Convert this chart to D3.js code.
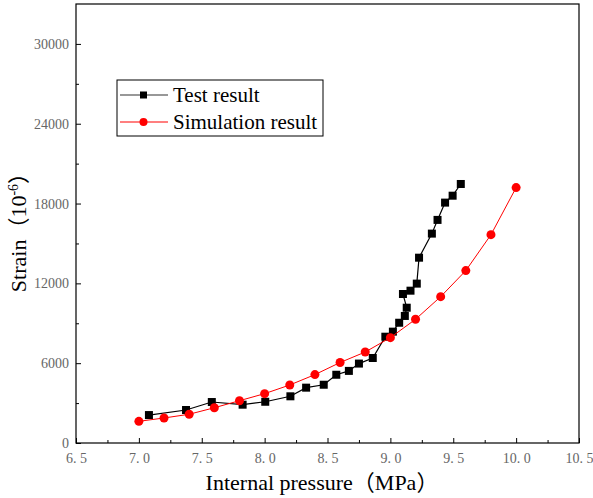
<!DOCTYPE html>
<html>
<head>
<meta charset="utf-8">
<script src="https://cdn.jsdelivr.net/npm/d3@7"></script>
<style>
  body { margin: 0; background: #fff; }
</style>
</head>
<body>
<div id="chart"></div>
<script>
let width = 593
let height = 498
let margin = {top: 4, right: 14, bottom: 55, left: 76}

// values
const testPressure = [7.08, 7.375, 7.58, 7.825, 8.005, 8.205, 8.33, 8.47, 8.57, 8.67, 8.75, 8.86, 8.96, 9.02, 9.07, 9.115, 9.13, 9.10, 9.16, 9.21, 9.228, 9.33, 9.375, 9.435, 9.495, 9.56]
const testStrain = [2100, 2480, 3080, 2880, 3100, 3510, 4160, 4380, 5130, 5420, 5970, 6390, 7990, 8370, 9040, 9550, 10170, 11200, 11450, 11980, 13930, 15740, 16770, 18070, 18590, 19470]

const simPressure = [7.0, 7.2, 7.4, 7.6, 7.8, 8.0, 8.2, 8.4, 8.6, 8.8, 9.0, 9.2, 9.4, 9.6, 9.8, 10.0]
const simStrain = [1630, 1880, 2160, 2650, 3180, 3710, 4360, 5140, 6050, 6840, 7920, 9300, 11000, 12960, 15660, 19200]

const xTicks = [6.5, 7.0, 7.5, 8.0, 8.5, 9.0, 9.5, 10.0, 10.5]
const yTicks = [0, 6000, 12000, 18000, 24000, 30000]
const seriesNames = ['Test result', 'Simulation result']

const testData = testPressure.map((p, i) => [p, testStrain[i]])
const simData = simPressure.map((p, i) => [p, simStrain[i]])

let innerW = width - margin.left - margin.right
let innerH = height - margin.top - margin.bottom

let svg = d3.select('#chart')
            .append('svg')
            .attr('width', width)
            .attr('height', height)

let g = svg.append('g')
            .attr('transform', 'translate(' + margin.left + ',' + margin.top + ')')

let xScale = d3.scaleLinear()
            .domain([6.5, 10.5])
            .range([0, innerW])

let yScale = d3.scaleLinear()
            .domain([0, 33000])
            .range([innerH, 0])

const tickFont = '"Liberation Serif", serif'
const titleFont = '"Liberation Serif", "Noto Sans CJK SC", serif'

// minor ticks
g.append('g')
    .attr('transform', 'translate(0,' + innerH + ')')
    .call(d3.axisBottom(xScale).tickValues(d3.range(6.75, 10.5, 0.5)).tickSize(-3).tickFormat(''))
    .call(a => a.select('.domain').remove())

g.append('g')
    .call(d3.axisLeft(yScale).tickValues(d3.range(3000, 33000, 6000)).tickSize(-3).tickFormat(''))
    .call(a => a.select('.domain').remove())

// major ticks
let xAxis = g.append('g')
    .attr('transform', 'translate(0,' + innerH + ')')
    .call(d3.axisBottom(xScale).tickValues(xTicks).tickSize(-5).tickPadding(10).tickFormat(''))
xAxis.select('.domain').remove()
// labels like "6. 5": integer part, then a gap before the decimal
xAxis.selectAll('.tick text')
    .style('font-family', tickFont)
    .style('font-size', '14px')
    .attr('fill', '#666')
    .each(function(d) {
        let parts = d3.format('.1f')(d).split('.')
        let t = d3.select(this)
        t.append('tspan').text(parts[0] + '.')
        t.append('tspan').attr('dx', 3.5).text(parts[1])
    })

let yAxis = g.append('g')
    .call(d3.axisLeft(yScale).tickValues(yTicks).tickSize(-5).tickPadding(7).tickFormat(d3.format('d')))
yAxis.select('.domain').remove()
yAxis.selectAll('text')
    .style('font-family', tickFont)
    .style('font-size', '14px')
    .attr('fill', '#666')

// frame
g.append('rect')
    .attr('width', innerW)
    .attr('height', innerH)
    .attr('fill', 'none')
    .attr('stroke', '#000')
    .attr('stroke-width', 1.2)

// axis titles
svg.append('text')
    .attr('x', 322)
    .attr('y', 490)
    .attr('text-anchor', 'middle')
    .style('font-family', titleFont)
    .style('font-size', '22px')
    .text('Internal pressure（MPa）')

let yTitle = svg.append('text')
    .attr('transform', 'translate(26,227) rotate(-90)')
    .attr('text-anchor', 'middle')
    .style('font-family', titleFont)
    .style('font-size', '22px')
yTitle.append('tspan').text('Strain（10')
yTitle.append('tspan').attr('dy', -8).style('font-size', '14px').text('-6')
yTitle.append('tspan').attr('dy', 8).text('）')

let line = d3.line()
            .x(d => xScale(d[0]))
            .y(d => yScale(d[1]))

// test series
g.append('path')
    .datum(testData)
    .attr('d', line)
    .attr('fill', 'none')
    .attr('stroke', '#000')
    .attr('stroke-width', 1.2)

g.selectAll('.sq')
    .data(testData)
    .enter()
    .append('rect')
    .attr('class', 'sq')
    .attr('x', d => xScale(d[0]) - 4)
    .attr('y', d => yScale(d[1]) - 4)
    .attr('width', 8)
    .attr('height', 8)
    .attr('fill', '#000')

// simulation series
g.append('path')
    .datum(simData)
    .attr('d', line)
    .attr('fill', 'none')
    .attr('stroke', '#f00')
    .attr('stroke-width', 1)

g.selectAll('.dot')
    .data(simData)
    .enter()
    .append('circle')
    .attr('class', 'dot')
    .attr('cx', d => xScale(d[0]))
    .attr('cy', d => yScale(d[1]))
    .attr('r', 4.5)
    .attr('fill', '#f00')

// legend
let legend = svg.append('g')
legend.append('rect')
    .attr('x', 117)
    .attr('y', 80)
    .attr('width', 206)
    .attr('height', 56)
    .attr('fill', '#fff')
    .attr('stroke', '#000')
    .attr('stroke-width', 1)

let rows = legend.selectAll('.row')
    .data(seriesNames)
    .enter()
    .append('g')
    .attr('class', 'row')
    .attr('transform', (d, i) => 'translate(0,' + (95 + i * 27) + ')')

rows.append('line')
    .attr('x1', 120)
    .attr('x2', 168)
    .attr('stroke', (d, i) => i ? '#f00' : '#333')
    .attr('stroke-width', 1.2)

rows.filter((d, i) => i === 0)
    .append('rect')
    .attr('x', 140)
    .attr('y', -3.5)
    .attr('width', 7)
    .attr('height', 7)
    .attr('fill', '#000')

rows.filter((d, i) => i === 1)
    .append('circle')
    .attr('cx', 143.5)
    .attr('r', 4)
    .attr('fill', '#f00')

rows.append('text')
    .attr('x', 173)
    .attr('y', 7)
    .style('font-family', titleFont)
    .style('font-size', '21px')
    .text(d => d)
</script>
</body>
</html>
